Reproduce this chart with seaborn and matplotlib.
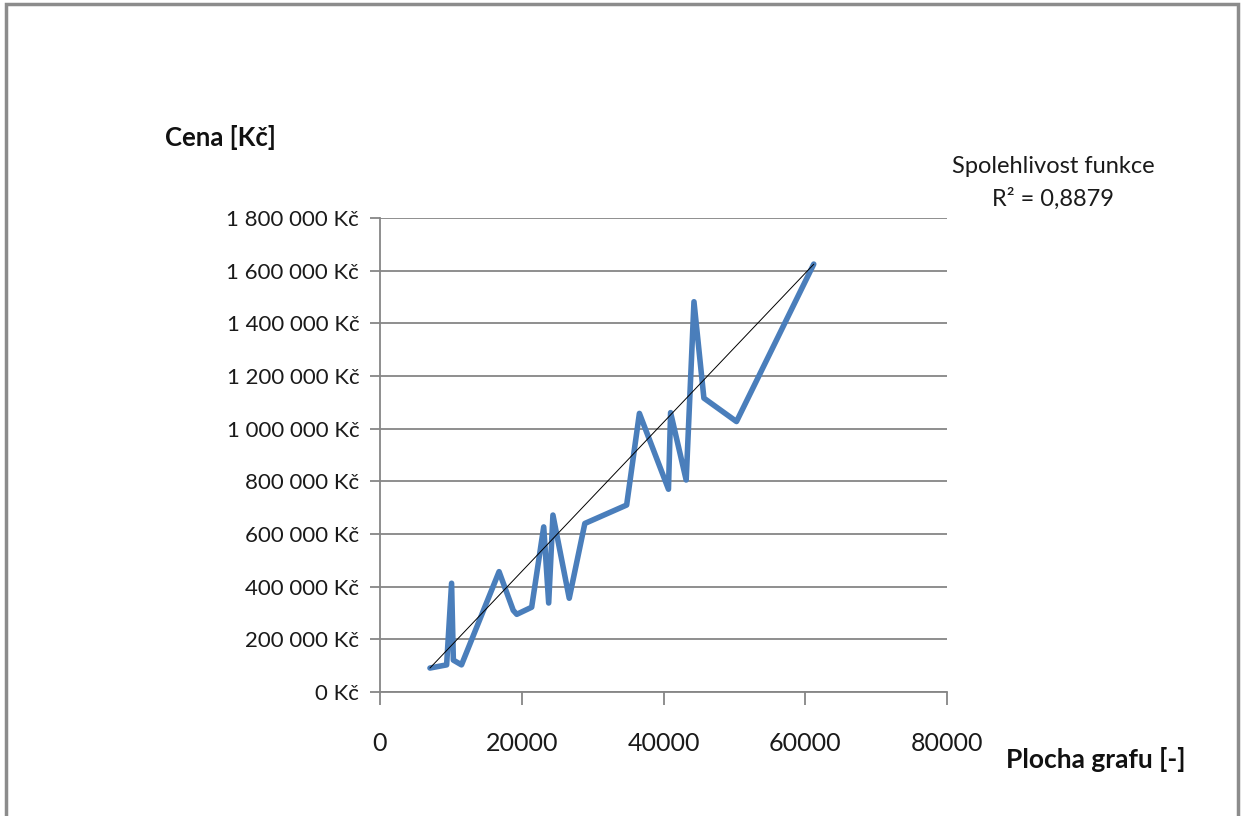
import matplotlib
matplotlib.use("Agg")
import matplotlib.pyplot as plt
import matplotlib.ticker as mticker
from matplotlib.patches import Rectangle
import numpy as np
import pandas as pd
import seaborn as sns

# Plocha grafu vs. cena
plocha = [7050, 9400, 10100, 10350, 11500, 16800, 18800, 19300, 21400, 23100,
          23800, 24400, 26700, 28900, 34800, 36600, 40700, 41000, 43200, 44300,
          45700, 50300, 61200]
cena = [91000, 103000, 413000, 121000, 103000, 457000, 310000, 295000, 322000, 627000,
        338000, 672000, 356000, 640000, 710000, 1058000, 770000, 1061000, 805000, 1482000,
        1116000, 1027000, 1625000]

# linear trend: cena = trend_slope * plocha + trend_intercept
trend_slope = 28.32
trend_intercept = -108700

x_ticks = [0, 20000, 40000, 60000, 80000]
y_ticks = [0, 200000, 400000, 600000, 800000, 1000000, 1200000, 1400000, 1600000, 1800000]

r2_text = "Spolehlivost funkce\nR² = 0,8879"

df = pd.DataFrame({"plocha": plocha, "cena": cena})
trend_x = np.array([min(plocha), max(plocha)], dtype=float)
trend_df = pd.DataFrame({"plocha": trend_x,
                         "cena": trend_slope * trend_x + trend_intercept})

sns.set_style("white")
plt.rcParams["font.family"] = ["Lato", "DejaVu Sans"]

W, H = 1243, 816
fig = plt.figure(figsize=(W / 100, H / 100), dpi=100)

# frame around the chart area
fig.patches.append(Rectangle((6 / W, -0.05), (1238 - 6) / W, 1.05 - 4 / H,
                             transform=fig.transFigure, fill=False,
                             edgecolor="#8c8c8c", linewidth=2.5))

ax = fig.add_axes([380 / W, 1 - 692 / H, (947 - 380) / W, (692 - 218) / H])

grid_c = "#868686"
sns.lineplot(data=df, x="plocha", y="cena", ax=ax, color="#4A7EBB",
             linewidth=4.0, sort=False, estimator=None)
sns.lineplot(data=trend_df, x="plocha", y="cena", ax=ax, color="black",
             linewidth=0.7, sort=False, estimator=None)

ax.set_xlim(0, 80000)
ax.set_ylim(0, 1800000)
ax.set_xticks(x_ticks)
ax.set_yticks(y_ticks)
ax.yaxis.set_major_formatter(mticker.FuncFormatter(
    lambda v, p: f"{v:,.0f}".replace(",", " ") + " Kč"))
ax.xaxis.set_major_formatter(mticker.FuncFormatter(lambda v, p: f"{v:.0f}"))

ax.grid(axis="y", color=grid_c, linewidth=1.3)
ax.grid(axis="x", visible=False)
ax.set_axisbelow(True)
for s in ["top", "right"]:
    ax.spines[s].set_visible(False)
for s in ["left", "bottom"]:
    ax.spines[s].set_color(grid_c)
    ax.spines[s].set_linewidth(1.3)

ax.tick_params(axis="y", direction="out", length=7, width=1.3, color=grid_c,
               labelsize=16, pad=8, labelcolor="#1a1a1a", left=True)
ax.tick_params(axis="x", direction="out", length=9, width=1.3, color=grid_c,
               labelsize=18, pad=20, labelcolor="#1a1a1a", bottom=True)
ax.set_xlabel("")
ax.set_ylabel("")

fig.text(165 / W, 1 - 137 / H, "Cena [Kč]", fontsize=18.5, fontweight="bold",
         ha="left", va="center", color="#111111")
fig.text(1185 / W, 1 - 760 / H, "Plocha grafu [-]", fontsize=19, fontweight="bold",
         ha="right", va="center", color="#111111")
fig.text(1053 / W, 1 - 183 / H, r2_text, fontsize=17, ha="center", va="center",
         color="#1a1a1a", linespacing=1.55)

fig.savefig("out.png", dpi=100)
